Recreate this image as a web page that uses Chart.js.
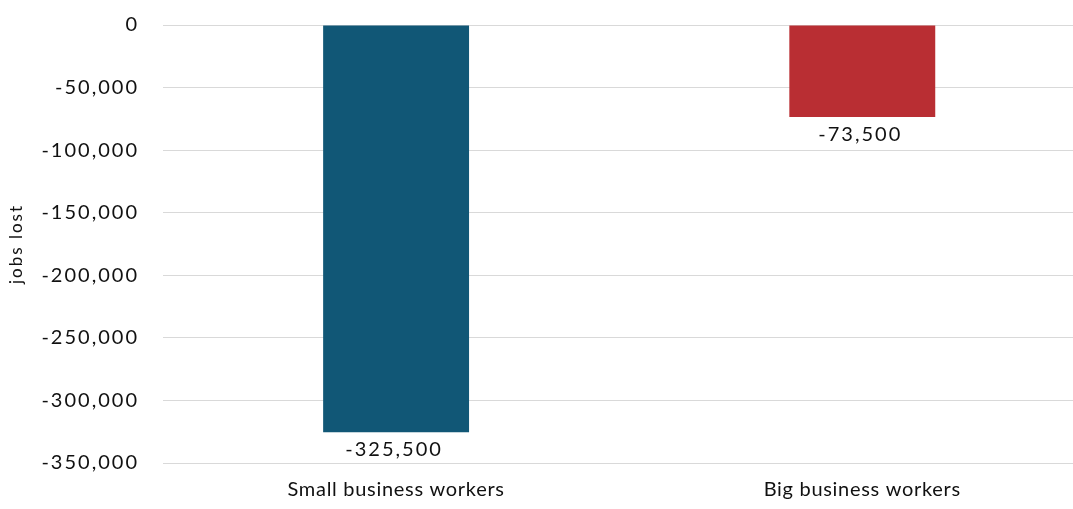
<!DOCTYPE html>
<html>
<head>
<meta charset="utf-8">
<script src="https://cdn.jsdelivr.net/npm/chart.js@4/dist/chart.umd.min.js"></script>
<style>
  html, body { margin: 0; padding: 0; background: #fff; overflow: hidden; }
  #wrap { width: 1073px; height: 509px; position: relative; }
</style>
</head>
<body>
<div id="wrap"><canvas id="c"></canvas></div>
<script>
const categories = ['Small business workers', 'Big business workers'];
const jobsLost = [-325500, -73500];
const barColors = ['#115776', '#B92E33'];
const yTicks = [0, -50000, -100000, -150000, -200000, -250000, -300000, -350000];

const FONT = 'Lato, "Open Sans", sans-serif';
const TEXT = '#111111';

// letter spacing to approximate the wider original typeface
const spacingPlugin = {
  id: 'spacing',
  beforeDraw(chart) { chart.ctx.letterSpacing = '2px'; },
  afterDatasetsDraw(chart) {
    const ctx = chart.ctx;
    const meta = chart.getDatasetMeta(0);
    ctx.save();
    ctx.letterSpacing = '2px';
    ctx.font = '20px ' + FONT;
    ctx.fillStyle = TEXT;
    ctx.textAlign = 'center';
    ctx.textBaseline = 'alphabetic';
    meta.data.forEach((bar, i) => {
      ctx.fillText(jobsLost[i].toLocaleString('en-US'), bar.x - 2, bar.y + 24);
    });
    ctx.restore();
    ctx.letterSpacing = '0.7px';
  },
  afterDraw(chart) { chart.ctx.letterSpacing = '0px'; }
};

new Chart(document.getElementById('c'), {
  type: 'bar',
  data: {
    datasets: [{
      data: categories.map((c, i) => ({ x: i, y: jobsLost[i] })),
      backgroundColor: barColors,
      borderWidth: 0,
      barPercentage: 0.313,
      categoryPercentage: 1
    }]
  },
  options: {
    responsive: true,
    maintainAspectRatio: false,
    animation: false,
    layout: { padding: { top: 25, right: 0, bottom: 0, left: 0 } },
    plugins: { legend: { display: false }, tooltip: { enabled: false } },
    scales: {
      x: {
        type: 'linear',
        offset: false,
        min: -0.5,
        max: 1.452,
        afterBuildTicks(scale) { scale.ticks = categories.map((c, i) => ({ value: i })); },
        afterFit(scale) { scale.height = 46; scale.paddingLeft = 0; scale.paddingRight = 0; },
        grid: { display: false, drawTicks: false },
        border: { display: false },
        ticks: {
          z: 1,
          font: { family: FONT, size: 20 },
          color: TEXT,
          padding: 15,
          maxRotation: 0,
          autoSkip: false,
          callback: (v) => categories[v] ?? ''
        }
      },
      y: {
        min: -350000,
        max: 0,
        afterBuildTicks(scale) { scale.ticks = yTicks.map(v => ({ value: v })); },
        afterFit(scale) { scale.width = 163; scale.paddingTop = 0; scale.paddingBottom = 0; },
        grid: { color: '#d9d9d9', lineWidth: 1, drawTicks: false },
        border: { display: false },
        ticks: {
          font: { family: FONT, size: 20 },
          color: TEXT,
          padding: 24,
          callback: (v) => Number(v).toLocaleString('en-US')
        },
        title: {
          display: true,
          text: 'jobs lost',
          font: { family: FONT, size: 17 },
          color: TEXT,
          padding: { top: 6, bottom: 0 }
        }
      }
    }
  },
  plugins: [spacingPlugin]
});
</script>
</body>
</html>
